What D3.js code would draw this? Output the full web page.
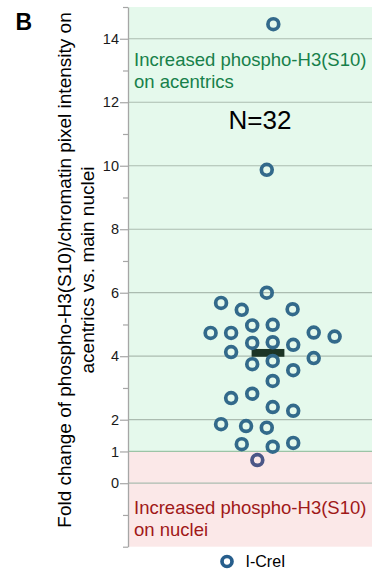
<!DOCTYPE html>
<html>
<head>
<meta charset="utf-8">
<script src="https://cdn.jsdelivr.net/npm/d3@7"></script>
<style>
  html, body { margin: 0; padding: 0; background: #fff; }
  svg { display: block; font-family: "Liberation Sans", Arial, sans-serif; }
</style>
</head>
<body>
<svg id="chart" width="372" height="572"></svg>
<script>
// Fold change per acentric (I-CreI), N = 32
const foldChange = [
  14.46, 9.87, 6.0, 5.68, 5.46, 5.48, 4.97, 4.99, 4.735, 4.735, 4.745, 4.62,
  4.42, 4.44, 4.36, 4.13, 3.94, 3.75, 3.85, 3.56, 3.22, 2.68, 2.82, 2.40,
  2.28, 1.86, 1.80, 1.75, 1.23, 1.15, 1.27, 0.73
];
// horizontal spread of each point, in marker columns
const jitter = [
  0.26, -0.06, -0.06, -2.29, -1.28, 1.20, -0.77, 0.23, -2.80, -1.80, 2.23, 3.25,
  -0.77, 0.23, 1.23, -1.80, 2.23, -0.77, 0.23, 1.23, 0.23, -1.80, -0.77, 0.23,
  1.23, -2.29, -1.07, -0.06, -1.28, 0.23, 1.23, -0.52
];
const seriesName = "I-CreI";
const yTicks = d3.range(-2, 16);
const yLabelled = [0, 1, 2, 4, 6, 8, 10, 12, 14];
const threshold = 1;
const axisTitle = ["Fold change of phospho-H3(S10)/chromatin pixel intensity on",
                   "acentrics vs. main nuclei"];
const upperNote = ["Increased phospho-H3(S10)", "on acentrics"];
const lowerNote = ["Increased phospho-H3(S10)", "on nuclei"];
const panelLetter = "B";

const svg = d3.select("#chart");
const plot = { left: 128, right: 372, top: 7, bottom: 546.7 };

const y = d3.scaleLinear().domain([-2, 15]).range([plot.bottom, plot.top]);
const x = d3.scaleLinear().domain([-4, 4]).range([186, 350]);

// background zones
svg.append("rect")
  .attr("x", plot.left).attr("y", y(15))
  .attr("width", plot.right - plot.left).attr("height", y(threshold) - y(15))
  .attr("fill", "#e5f9ec");
svg.append("rect")
  .attr("x", plot.left).attr("y", y(threshold))
  .attr("width", plot.right - plot.left).attr("height", y(-2) - y(threshold))
  .attr("fill", "#fbe8e8");

// gridlines
svg.append("g").selectAll("line")
  .data(yLabelled)
  .join("line")
  .attr("x1", plot.left).attr("x2", plot.right)
  .attr("y1", d => y(d)).attr("y2", d => y(d))
  .attr("stroke", d => d === threshold ? "#9cc4a6" : "#abbcb0")
  .attr("stroke-width", 1.2);

// y axis
const yAxis = d3.axisLeft(y)
  .tickValues(yTicks)
  .tickFormat(d => yLabelled.includes(d) ? d : "")
  .tickSizeOuter(0)
  .tickPadding(3);
const gy = svg.append("g").attr("transform", `translate(${plot.left},0)`).call(yAxis);
gy.select(".domain").attr("stroke", "#a6a6a6").attr("stroke-width", 1.3);
gy.selectAll(".tick line")
  .attr("stroke", "#a6a6a6").attr("stroke-width", 1.2)
  .attr("x2", d => yLabelled.includes(d) ? -8 : -5);
gy.selectAll(".tick text")
  .attr("x", -9)
  .attr("font-size", 14.5).attr("fill", "#1a1a1a")
  .attr("font-family", "'Liberation Sans', Arial, sans-serif");

// zone notes
svg.append("text")
  .attr("x", 134).attr("y", 66)
  .attr("font-size", 18.5).attr("fill", "#17804a")
  .selectAll("tspan").data(upperNote).join("tspan")
  .attr("x", 134).attr("dy", (d, i) => i ? 21.5 : 0).text(d => d);
svg.append("text")
  .attr("x", 134).attr("y", 514)
  .attr("font-size", 18.5).attr("fill", "#a01818")
  .selectAll("tspan").data(lowerNote).join("tspan")
  .attr("x", 134).attr("dy", (d, i) => i ? 21.5 : 0).text(d => d);

// sample size
svg.append("text")
  .attr("x", 260).attr("y", 129)
  .attr("text-anchor", "middle")
  .attr("font-size", 26).attr("fill", "#000")
  .text("N=" + foldChange.length);

// mean bar
const meanValue = d3.mean(foldChange);
svg.append("rect")
  .attr("x", x(-0.8)).attr("width", x(0.8) - x(-0.8))
  .attr("y", y(meanValue) - 3.9).attr("height", 7.8)
  .attr("fill", "#1d3526");

// points
const pts = foldChange.map((v, i) => ({ v, j: jitter[i] }));
svg.append("g").selectAll("circle")
  .data(pts)
  .join("circle")
  .attr("cx", d => x(d.j))
  .attr("cy", d => y(d.v))
  .attr("r", 5.4)
  .attr("fill", "none")
  .attr("stroke", d => d.v < threshold ? "#4b5787" : "#336a8b")
  .attr("stroke-width", 3.7);

// axis title
const title = svg.append("text")
  .attr("transform", "translate(0,270) rotate(-90)")
  .attr("text-anchor", "middle")
  .attr("font-size", 19).attr("fill", "#000");
title.selectAll("tspan").data(axisTitle).join("tspan")
  .attr("x", 0).attr("y", (d, i) => i ? 93.5 : 70.5)
  .text(d => d);

// panel letter
svg.append("text")
  .attr("x", 15.5).attr("y", 29.5)
  .attr("font-size", 23).attr("font-weight", "bold").attr("fill", "#000")
  .text(panelLetter);

// legend
const lg = svg.append("g").attr("transform", "translate(227,561.5)");
lg.append("circle").attr("r", 5).attr("fill", "none")
  .attr("stroke", "#275e8c").attr("stroke-width", 3.7);
lg.append("text").attr("x", 18.5).attr("y", 5.5)
  .attr("font-size", 16).attr("fill", "#000").text(seriesName);
</script>
</body>
</html>
